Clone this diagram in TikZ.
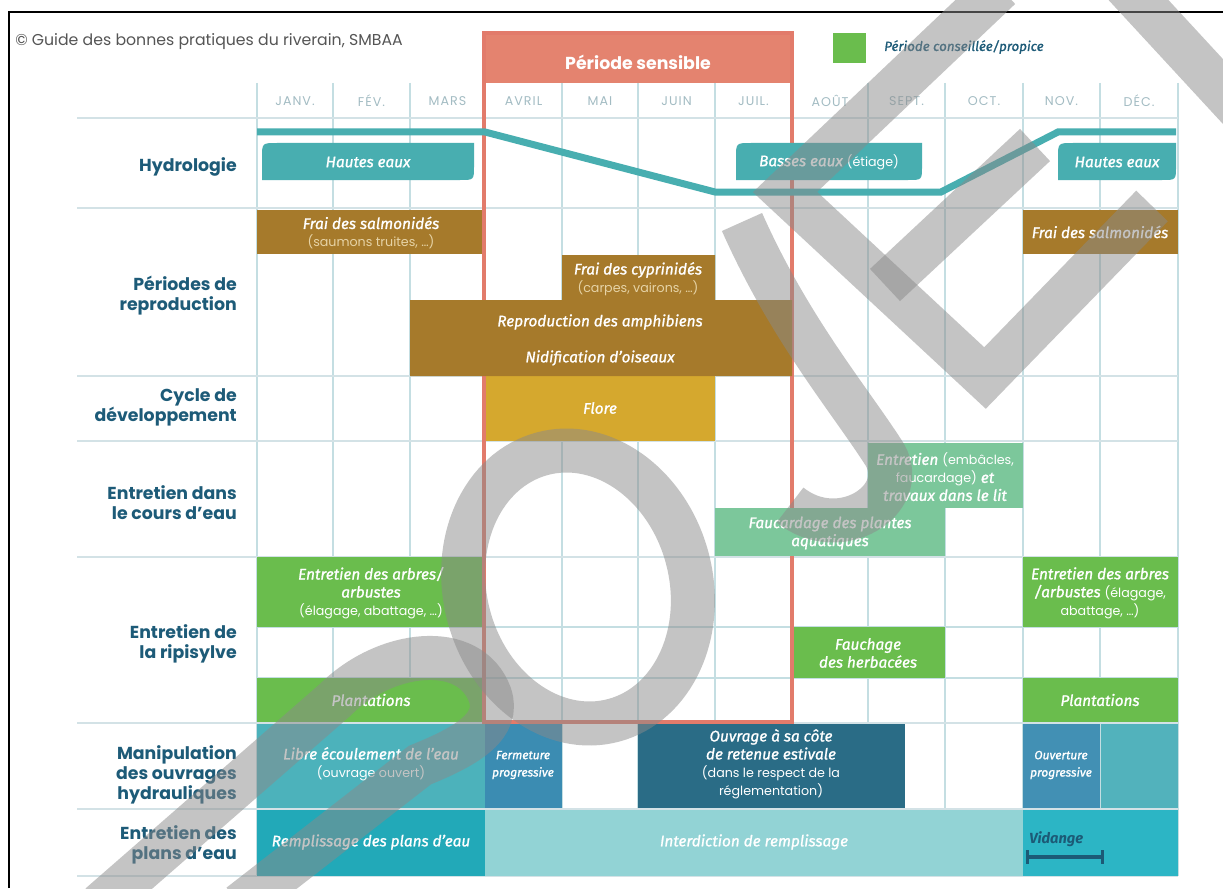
\documentclass[tikz,border=0pt]{standalone}
\usepackage{fontspec}
\setmainfont{Poppins}
\newfontfamily\boxfont{Fira Sans}
\newlength{\du}
\setlength{\du}{0.75pt}

\definecolor{labelblue}{HTML}{1D5B78}
\definecolor{titlegrey}{HTML}{555555}
\definecolor{monthgrey}{HTML}{A3BCC3}
\definecolor{gridcol}{HTML}{C4DEE2}
\definecolor{rowcol}{HTML}{D3E2E6}
\definecolor{redline}{HTML}{E27B6B}
\definecolor{redhead}{HTML}{E4836F}
\definecolor{hydroteal}{HTML}{48AEB0}
\definecolor{brown}{HTML}{A67A2B}
\definecolor{subbrown}{HTML}{E6D3A6}
\definecolor{golden}{HTML}{D5A82E}
\definecolor{mint}{HTML}{7CC79B}
\definecolor{leafgreen}{HTML}{6ABD4D}
\definecolor{libre}{HTML}{4CB2BB}
\definecolor{ferm}{HTML}{3B8CB2}
\definecolor{ouvrage}{HTML}{2A6C86}
\definecolor{ouvert}{HTML}{4290B4}
\definecolor{tealblock}{HTML}{52B2BC}
\definecolor{rempl}{HTML}{22A9B8}
\definecolor{interd}{HTML}{92D3D5}
\definecolor{vidange}{HTML}{2CB5C5}
\definecolor{vidtext}{HTML}{1C5A76}
\definecolor{wmgrey}{HTML}{8A8A8A}

\newcommand{\uptxt}[1]{{\rmfamily\upshape\fontsize{9.5}{13.5}\selectfont #1}}

\tikzset{
  rowlabel/.style={anchor=east, align=right, inner sep=0pt, text=labelblue,
    font=\bfseries\fontsize{13}{15}\selectfont},
  monthlabel/.style={inner sep=0pt, text=monthgrey,
    font=\fontsize{9.5}{11}\selectfont\addfontfeature{LetterSpace=8}},
  boxtext/.style={inner sep=0pt, align=center, text=white,
    font=\boxfont\itshape\addfontfeature{FakeBold=1.2}\fontsize{11.5}{13.5}\selectfont},
  gridline/.style={draw=gridcol, line width=1.3\du},
  rowline/.style={draw=rowcol, line width=2\du},
  tab/.style={fill=hydroteal},
  wm/.style={draw=wmgrey, line width=44\du, opacity=0.5, line cap=butt, line join=miter},
}

\begin{document}
\begin{tikzpicture}
\pgftransformyscale{-1.000000}
\useasboundingbox (0\du,0\du) rectangle (1223\du,888\du);
\fill[white] (0\du,0\du) rectangle (1223\du,888\du);
\draw[line width=2.5\du] (9\du,888\du) -- (9\du,12\du) -- (1223\du,12\du);

% title and legend
\node[anchor=west, inner sep=0pt, text=titlegrey, font=\fontsize{11.8}{13}\selectfont] (title) at (15\du,42\du) {© Guide des bonnes pratiques du riverain, SMBAA};
\fill[redhead] (484\du,33\du) rectangle (792\du,83\du);
\node[inner sep=0pt, text=white, font=\bfseries\fontsize{13}{15}\selectfont] (sens) at (638\du,62\du) {Période sensible};
\fill[leafgreen] (833\du,33\du) rectangle (866\du,63\du);
\node[anchor=west, inner sep=0pt, text=labelblue, font=\boxfont\itshape\addfontfeature{FakeBold=1}\fontsize{10}{12}\selectfont] (legtxt) at (884\du,47\du) {Période conseillée/propice};

% grid
\draw[gridline] (257\du,83\du) -- (257\du,876\du);
\draw[gridline] (333\du,83\du) -- (333\du,876\du);
\draw[gridline] (410\du,83\du) -- (410\du,876\du);
\draw[gridline] (485\du,83\du) -- (485\du,876\du);
\draw[gridline] (562\du,83\du) -- (562\du,876\du);
\draw[gridline] (638\du,83\du) -- (638\du,876\du);
\draw[gridline] (715\du,83\du) -- (715\du,876\du);
\draw[gridline] (792\du,83\du) -- (792\du,876\du);
\draw[gridline] (868\du,83\du) -- (868\du,876\du);
\draw[gridline] (945\du,83\du) -- (945\du,876\du);
\draw[gridline] (1023\du,83\du) -- (1023\du,876\du);
\draw[gridline] (1100\du,83\du) -- (1100\du,876\du);
\draw[gridline] (1178\du,83\du) -- (1178\du,876\du);
\draw[rowline] (77\du,118\du) -- (1178\du,118\du);
\draw[rowline] (77\du,208\du) -- (1178\du,208\du);
\draw[rowline] (77\du,376\du) -- (1178\du,376\du);
\draw[rowline] (77\du,441\du) -- (1178\du,441\du);
\draw[rowline] (77\du,557\du) -- (1178\du,557\du);
\draw[gridline] (257\du,627\du) -- (1178\du,627\du);
\draw[gridline] (257\du,678\du) -- (1178\du,678\du);
\draw[rowline] (77\du,723\du) -- (1178\du,723\du);
\draw[rowline] (77\du,809\du) -- (1178\du,809\du);
\draw[rowline] (77\du,876\du) -- (1178\du,876\du);

% months
\node[monthlabel] (mJan) at (295\du,101\du) {JANV.};
\node[monthlabel] (mFeb) at (371.5\du,101\du) {FÉV.};
\node[monthlabel] (mMar) at (447.5\du,101\du) {MARS};
\node[monthlabel] (mApr) at (523.5\du,101\du) {AVRIL};
\node[monthlabel] (mMay) at (600\du,101\du) {MAI};
\node[monthlabel] (mJun) at (676.5\du,101\du) {JUIN};
\node[monthlabel] (mJul) at (753.5\du,101\du) {JUIL.};
\node[monthlabel] (mAug) at (830\du,101\du) {AOÛT};
\node[monthlabel] (mSep) at (906.5\du,101\du) {SEPT.};
\node[monthlabel] (mOct) at (984\du,101\du) {OCT.};
\node[monthlabel] (mNov) at (1061.5\du,101\du) {NOV.};
\node[monthlabel] (mDec) at (1139\du,101\du) {DÉC.};

% row labels
\node[rowlabel] (lHydro) at (237\du,167\du) {Hydrologie};
\node[rowlabel] (lRepro) at (237\du,296\du) {Périodes de\\reproduction};
\node[rowlabel] (lCycle) at (237\du,407\du) {Cycle de\\développement};
\node[rowlabel] (lCours) at (237\du,503\du) {Entretien dans\\le cours d’eau};
\node[rowlabel] (lRipi) at (237\du,644\du) {Entretien de\\la ripisylve};
\node[rowlabel] (lOuvr) at (237\du,775\du) {Manipulation\\des ouvrages\\hydrauliques};
\node[rowlabel] (lPlans) at (237\du,845\du) {Entretien des\\plans d’eau};

% boxes under the red frame
\fill[brown] (257\du,210\du) rectangle (485\du,254\du);
\node[boxtext] (salmA) at (371\du,233\du) {Frai des salmonidés\\\uptxt{\color{subbrown}(saumons truites, …)}};
\fill[brown] (1023\du,210\du) rectangle (1178\du,254\du);
\node[boxtext] (salmB) at (1100\du,232\du) {Frai des salmonidés};
\fill[golden] (485\du,376\du) rectangle (715\du,441\du);
\node[boxtext] (flore) at (600\du,408\du) {Flore};
\fill[mint] (868\du,443\du) rectangle (1023\du,508\du);
\node[boxtext] (embacles) at (945\du,477\du) {Entretien \uptxt{(embâcles,}\\\uptxt{faucardage)} et\\travaux dans le lit};
\fill[leafgreen] (257\du,557\du) rectangle (485\du,627\du);
\node[boxtext] (arbresA) at (371\du,593\du) {Entretien des arbres/\\arbustes\\\uptxt{(élagage, abattage, …)}};
\fill[leafgreen] (1023\du,557\du) rectangle (1178\du,627\du);
\node[boxtext] (arbresB) at (1100\du,593\du) {Entretien des arbres\\/arbustes \uptxt{(élagage,}\\\uptxt{abattage, …)}};
\fill[leafgreen] (792\du,627\du) rectangle (945\du,678\du);
\node[boxtext] (fauchage) at (868\du,653\du) {Fauchage\\des herbacées};
\fill[leafgreen] (257\du,678\du) rectangle (485\du,722\du);
\node[boxtext] (plantA) at (371\du,700\du) {Plantations};
\fill[leafgreen] (1023\du,678\du) rectangle (1178\du,722\du);
\node[boxtext] (plantB) at (1100\du,700\du) {Plantations};

% red frame
\draw[redline, line width=3.5\du] (484\du,33\du) rectangle (792\du,722\du);

% boxes over the red frame
\fill[brown] (562\du,255\du) -- (715\du,255\du) -- (715\du,300\du) -- (792\du,300\du) -- (792\du,376\du) -- (410\du,376\du) -- (410\du,300\du) -- (562\du,300\du) -- cycle;
\node[boxtext] (cypri) at (638\du,279\du) {Frai des cyprinidés\\\uptxt{\color{subbrown}(carpes, vairons, …)}};
\node[boxtext] (amphi) at (600\du,322\du) {Reproduction des amphibiens};
\node[boxtext] (nidif) at (600\du,358\du) {Nidification d’oiseaux};
\fill[mint] (715\du,508\du) rectangle (945\du,556\du);
\node[boxtext] (faucard) at (830\du,533\du) {Faucardage des plantes\\aquatiques};

% hydrology
\draw[hydroteal, line width=7\du] (257\du,132\du) -- (485\du,132\du) -- (715\du,192\du) -- (941\du,192\du) -- (1058\du,132\du) -- (1176\du,132\du);
\fill[tab] (262\du,180\du) -- (262\du,158\du) .. controls (262\du,143\du) .. (277\du,143\du) -- (474\du,143\du) -- (474\du,166\du) .. controls (474\du,180\du) .. (460\du,180\du) -- cycle;
\node[boxtext] (hautesA) at (368\du,162\du) {Hautes eaux};
\fill[tab] (736\du,180\du) -- (736\du,158\du) .. controls (736\du,143\du) .. (751\du,143\du) -- (922\du,143\du) -- (922\du,166\du) .. controls (922\du,180\du) .. (908\du,180\du) -- cycle;
\node[boxtext] (basses) at (829\du,162\du) {Basses eaux \uptxt{(étiage)}};
\fill[tab] (1058\du,180\du) -- (1058\du,158\du) .. controls (1058\du,143\du) .. (1073\du,143\du) -- (1176\du,143\du) -- (1176\du,166\du) .. controls (1176\du,180\du) .. (1162\du,180\du) -- cycle;
\node[boxtext] (hautesB) at (1117\du,162\du) {Hautes eaux};

% hydraulic works
\fill[libre] (257\du,724\du) rectangle (485\du,808\du);
\node[boxtext] (libreTxt) at (371\du,764\du) {Libre écoulement de l’eau\\\uptxt{(ouvrage ouvert)}};
\fill[ferm] (485\du,724\du) rectangle (562\du,808\du);
\node[boxtext, font=\boxfont\itshape\addfontfeature{FakeBold=1.2}\fontsize{9}{13}\selectfont] (fermTxt) at (523\du,765\du) {Fermeture\\progressive};
\fill[ouvrage] (638\du,724\du) rectangle (905\du,808\du);
\node[boxtext] (ouvrTxt) at (771\du,764\du) {Ouvrage à sa côte\\de retenue estivale\\\uptxt{(dans le respect de la}\\\uptxt{réglementation)}};
\fill[ouvert] (1023\du,724\du) rectangle (1100\du,808\du);
\fill[tealblock] (1101\du,724\du) rectangle (1178\du,808\du);
\node[boxtext, font=\boxfont\itshape\addfontfeature{FakeBold=1.2}\fontsize{9}{13}\selectfont] (ouvTxt) at (1061\du,765\du) {Ouverture\\progressive};

% ponds
\fill[rempl] (257\du,810\du) rectangle (485\du,876\du);
\node[boxtext] (remplTxt) at (371\du,842\du) {Remplissage des plans d’eau};
\fill[interd] (485\du,810\du) rectangle (1023\du,876\du);
\node[boxtext] (interdTxt) at (754\du,842\du) {Interdiction de remplissage};
\fill[vidange] (1023\du,810\du) rectangle (1178\du,876\du);
\node[anchor=west, inner sep=0pt, text=vidtext, font=\boxfont\bfseries\itshape\fontsize{11}{13}\selectfont] (vidTxt) at (1029\du,839\du) {Vidange};
\draw[vidtext, line width=4\du] (1027\du,857\du) -- (1102\du,857\du);
\draw[vidtext, line width=3\du] (1027\du,850\du) -- (1027\du,864\du);
\draw[vidtext, line width=3\du] (1102\du,850\du) -- (1102\du,864\du);

% watermark
\draw[wm] (100\du,905\du) -- (335\du,700\du) .. controls (385\du,650\du) and (470\du,640\du) .. (490\du,695\du) .. controls (500\du,725\du) and (470\du,745\du) .. (420\du,765\du) -- (240\du,905\du);
\begin{scope}[shift={(578\du,587\du)}, rotate=-15]
\draw[wm] (0\du,0\du) ellipse [x radius=113\du, y radius=138\du];
\end{scope}
\draw[wm] (742\du,222\du) .. controls (790\du,330\du) and (850\du,400\du) .. (885\du,455\du) .. controls (910\du,500\du) and (840\du,545\du) .. (790\du,505\du);
\draw[wm] (1000\du,-12\du) -- (785\du,192\du) -- (985\du,378\du) -- (1152\du,206\du);
\draw[wm] (885\du,285\du) -- (1035\du,145\du);
\draw[wm] (1120\du,-20\du) -- (1240\du,110\du);
\end{tikzpicture}
\end{document}
